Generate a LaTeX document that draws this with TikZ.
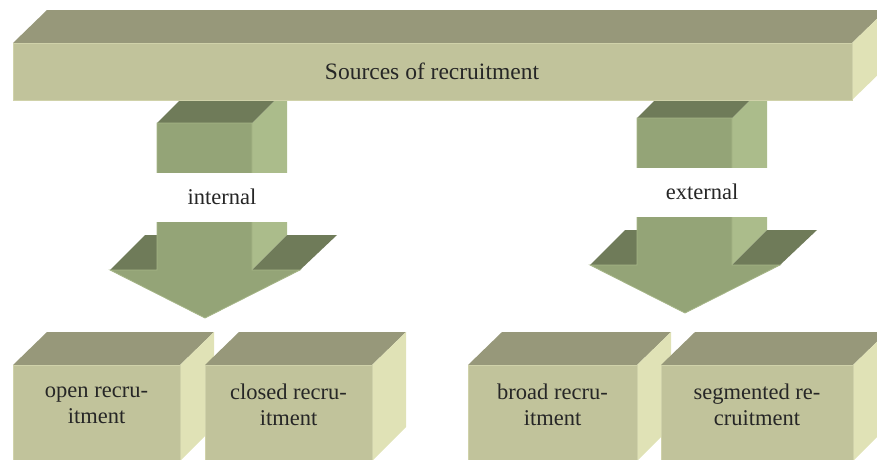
\documentclass[tikz,border=0pt]{standalone}
\usepackage{fontspec}
\setmainfont{Liberation Serif}
\usetikzlibrary{positioning}
\definecolor{boxtop}{HTML}{97987A}
\definecolor{boxfront}{HTML}{C1C39B}
\definecolor{boxside}{HTML}{E0E2B6}
\definecolor{boxedge}{HTML}{D0D2AA}
\definecolor{arrfront}{HTML}{94A477}
\definecolor{arrtop}{HTML}{6F7B59}
\definecolor{arrside}{HTML}{ABBC8B}
\definecolor{arredge}{HTML}{A6B687}
\tikzset{
  boxtopface/.style={fill=boxtop},
  boxsideface/.style={fill=boxside},
  boxfrontface/.style={fill=boxfront,draw=boxedge,line width=1pt},
  arrtopface/.style={fill=arrtop},
  arrsideface/.style={fill=arrside},
  arrfrontface/.style={fill=arrfront,draw=arredge,line width=0.8pt},
  lbl/.style={font=\fontsize{22.5}{26}\selectfont,text=black!85,inner sep=0pt,align=center},
}

\begin{document}
\begin{tikzpicture}[x=1pt,y=-1pt]
\useasboundingbox (0,0) rectangle (877,459);
\clip (0,0) rectangle (877,459);
% the two down arrows, cut by a white band with the label
\foreach \ax/\ay/\lab/\nm in {0/0/internal/intl,480/-5/external/extl} {
\begin{scope}[shift={(\ax,\ay)}]
  \fill[arrsideface] (252,123) -- (287,88) -- (287,235) -- (252,270) -- cycle;
  \fill[arrtopface] (157,123) -- (192,88) -- (287,88) -- (252,123) -- cycle;
  \fill[arrtopface] (110,270) -- (145,235) -- (157,235) -- (157,270) -- cycle;
  \fill[arrtopface] (252,270) -- (287,235) -- (337,235) -- (300,270) -- cycle;
  \filldraw[arrfrontface] (157,123) -- (252,123) -- (252,270) -- (300,270) -- (205,318) -- (110,270) -- (157,270) -- cycle;
  \fill[white] (150,173) rectangle (295,222);
  \node[lbl] (\nm) at (222,197) {\lab};
\end{scope}
}
% top bar
\fill[boxtopface] (13,43) -- (47,10) -- (886,10) -- (852,43) -- cycle;
\fill[boxsideface] (852,43) -- (886,10) -- (886,67) -- (852,100) -- cycle;
\filldraw[boxfrontface] (13,43) rectangle (852,100);
\node[lbl,font=\fontsize{23.5}{27}\selectfont] (src) at (432,71) {Sources of recruitment};
% bottom boxes
\foreach \xl/\xr/\txt/\nm in {13/180/{open recru-\\itment}/open,205/372/{closed recru-\\itment}/closed,468/637/{broad recru-\\itment}/broad,661/853/{segmented re-\\cruitment}/segm} {
  \fill[boxtopface] (\xl,365) -- (\xl+34,332) -- (\xr+34,332) -- (\xr,365) -- cycle;
  \fill[boxsideface] (\xr,365) -- (\xr+34,332) -- (\xr+34,427) -- (\xr,461) -- cycle;
  \filldraw[boxfrontface] (\xl,365) rectangle (\xr,461);
  \node[lbl] (\nm) at ({(\xl+\xr)/2},405) {\txt};
}
\end{tikzpicture}
\end{document}
